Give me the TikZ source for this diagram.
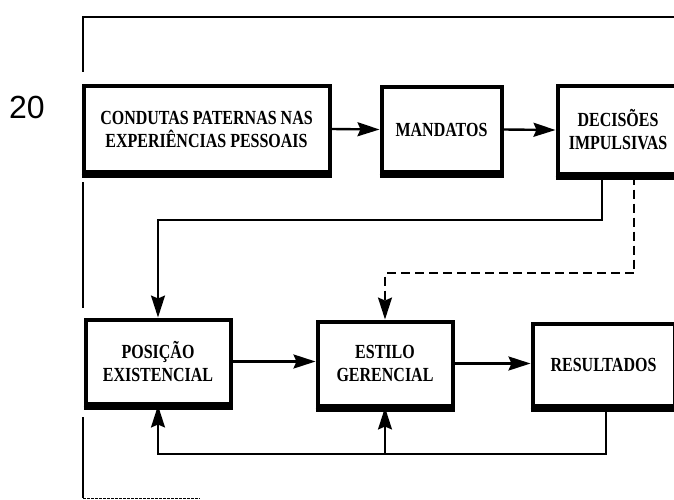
\documentclass[tikz,border=0pt]{standalone}
\usepackage{fontspec}
\setmainfont{Liberation Serif}
\newfontfamily\boxfont{Liberation Serif}[FakeStretch=0.8]
\newfontfamily\numfont{Liberation Sans}
\usetikzlibrary{arrows.meta}
\begin{document}
\begin{tikzpicture}[x=1pt,y=-1pt,
  box/.style={draw, line width=4pt, inner sep=0pt, align=center,
    font=\boxfont\bfseries\fontsize{20}{23}\selectfont},
  tip/.style={-{Stealth[length=22pt,width=14pt,inset=3pt]}},
  link/.style={line width=2.4pt, tip},
  back/.style={line width=1.7pt, tip},
  dashlink/.style={line width=1.7pt, dash pattern=on 9pt off 5pt, tip},
  frame/.style={line width=1.8pt},
  base/.style={line width=4pt}]
\clip (0,0) rectangle (674,500);
\fill[white] (0,0) rectangle (674,500);

\node[font=\numfont\fontsize{32}{32}\selectfont] (num) at (27,107) {20};

\node[box, minimum width=246, minimum height=85] (c) at (206.5,129) {CONDUTAS PATERNAS NAS\\EXPERIÊNCIAS PESSOAIS};
\node[box, minimum width=120, minimum height=84] (m) at (441.5,129.5) {MANDATOS};
\node[box, minimum width=121, minimum height=87] (d) at (618,130) {DECISÕES\\IMPULSIVAS};
\node[box, minimum width=145, minimum height=84] (p) at (158,361.5) {POSIÇÃO\\EXISTENCIAL};
\node[box, minimum width=135, minimum height=84] (e) at (385,363.5) {ESTILO\\GERENCIAL};
\node[box, minimum width=142, minimum height=82] (r) at (603.5,364.5) {RESULTADOS};

% heavier lower edges
\foreach \n in {c,m,d,p,e,r}{
  \draw[base] ([yshift=-2pt]\n.south west) -- ([yshift=-2pt]\n.south east);
}

% frame
\coordinate (f1) at (674,17);
\coordinate (f2) at (83,17);
\coordinate (f3) at (83,72);
\coordinate (f4) at (83,182);
\coordinate (f5) at (83,308);
\coordinate (f6) at (83,417);
\coordinate (f7) at (83,498);
\coordinate (f8) at (200,498);
\draw[frame] (f1) -- (f2) -- (f3);
\draw[frame] (f4) -- (f5);
\draw[frame] (f6) -- (f7);
\draw[line width=0.8pt, dash pattern=on 3pt off 1pt] (f7) -- (f8);

% main flow
\draw[link] (c.east) -- (m.west);
\draw[link] (m.east) -- (d.west);
\draw[link] (p.east) -- (e.west |- p.east);
\draw[link] (e.east) -- (r.west |- e.east);

% from decisions
\coordinate (k1) at (602,220);
\draw[back] (d.south -| k1) -- (k1) -| (p.north);
\coordinate (k2) at (634,273);
\draw[dashlink] (d.south -| k2) -- (k2) -| (e.north);

% feedback from results
\coordinate (k3) at (606,454);
\draw[back] (r.south -| k3) -- (k3) -| (p.south);
\draw[back] (k3 -| e.south) -- (e.south);
\end{tikzpicture}
\end{document}
